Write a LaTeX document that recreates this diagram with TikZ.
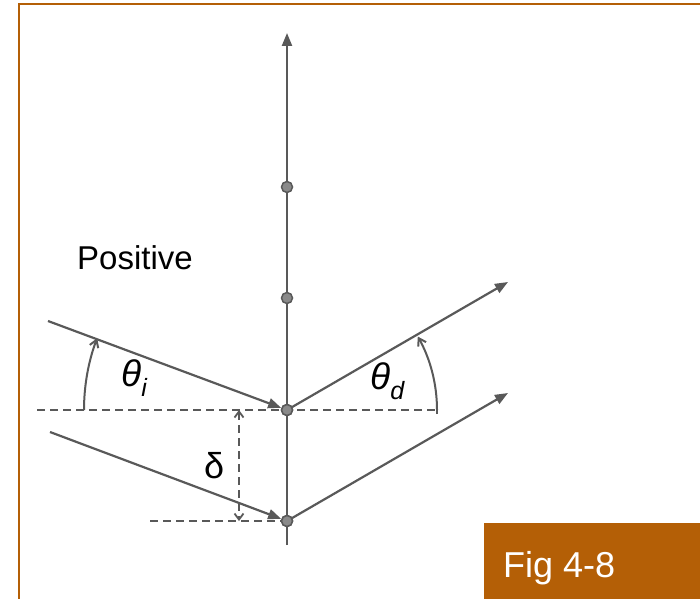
\documentclass[tikz,border=0pt]{standalone}
\usepackage{fontspec}
\setmainfont{Liberation Sans}
\usetikzlibrary{arrows.meta}
\definecolor{frameor}{HTML}{B45F06}
\definecolor{lgray}{HTML}{595959}
\definecolor{dgray}{HTML}{8A8A8A}
\begin{document}
\begin{tikzpicture}[x=1pt,y=1pt,
  ln/.style={draw=lgray,line width=2.2pt},
  ray/.style={ln,-{Triangle[length=13pt,width=10pt]}},
  dsh/.style={draw=lgray,line width=1.8pt,dash pattern=on 8pt off 5pt},
  dotn/.style={circle,draw=lgray,fill=dgray,line width=1.5pt,minimum size=11pt,inner sep=0pt},
  arcar/.style={ln,line width=2pt,-{Straight Barb[length=7pt,width=9pt]}},
  lbl/.style={inner sep=0pt,font=\fontsize{33}{40}\selectfont}
]
\useasboundingbox (0,0) rectangle (700,598);
% frame
\draw[frameor,line width=2.8pt] (19,-5) -- (19,594) -- (705,594);
\fill[frameor] (484,-2) rectangle (702,75);
\node[lbl,text=white,anchor=base west,font=\fontsize{36}{40}\selectfont] (fig) at (503,21) {Fig 4-8};
% dashed lines
\coordinate (h1s) at (37,188);
\coordinate (h1e) at (437,188);
\coordinate (h2s) at (150,77);
\draw[dsh] (h1s) -- (h1e);
% axis
\coordinate (axb) at (287,53);
\coordinate (axt) at (287,565);
\draw[ray] (axb) -- (axt);
% dots
\node[dotn] (d1) at (287,411) {};
\node[dotn] (d2) at (287,300) {};
\node[dotn] (d3) at (287,188) {};
\node[dotn] (d4) at (287,77) {};
\draw[dsh] (h2s) -- (d4.west);
% rays
\coordinate (i1) at (48,277);
\coordinate (i2) at (50,166);
\coordinate (r1) at (508,316);
\coordinate (r2) at (508,205);
\draw[ray] (i1) -- (d3);
\draw[ray] (i2) -- (d4);
\draw[ray] (d3.center) -- (r1);
\draw[ray] (d4.center) -- (r2);
\node[dotn] at (d3) {};
\node[dotn] at (d4) {};
% delta
\coordinate (da) at (239,188);
\coordinate (db) at (239,77);
\draw[dsh,{Straight Barb[length=6pt,width=9pt]}-{Straight Barb[length=6pt,width=9pt]}] (da) -- (db);
% angle arcs
\coordinate (ai) at (84,188);
\coordinate (ad) at (437,188);
\draw[arcar] (ai) arc[start angle=180,end angle=159.3,radius=203];
\draw[arcar] (ad) arc[start angle=0,end angle=29.3,radius=150];
\draw[lgray,line width=1.8pt] ([yshift=-4pt]ad) -- ([yshift=4pt]ad);
% labels
\node[lbl,anchor=base west] (pos) at (77,329) {Positive};
\node[lbl,anchor=base west] (ti) at (121,212) {\fontsize{37}{40}\selectfont\itshape θ\raisebox{-10pt}{\fontsize{25}{26}\selectfont i}};
\node[lbl,anchor=base west] (td) at (370,209) {\fontsize{37}{40}\selectfont\itshape θ\raisebox{-10pt}{\fontsize{25}{26}\selectfont d}};
\node[lbl,anchor=base west,font=\fontsize{36}{40}\selectfont] (dl) at (204,120) {δ};
\end{tikzpicture}
\end{document}
